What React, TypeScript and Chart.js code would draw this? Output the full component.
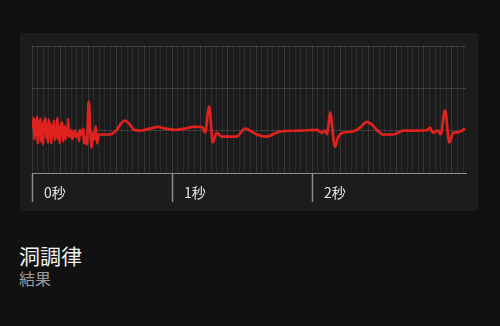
import React, { useEffect, useRef } from "react";
import { Chart, registerables } from "chart.js";

Chart.register(...registerables);

// ECG trace: time in seconds, amplitude in mV
const times = [
  0.005, 0.012, 0.018, 0.024, 0.03, 0.036, 0.042, 0.048, 0.054, 0.06,
  0.066, 0.072, 0.078, 0.084, 0.09, 0.096, 0.102, 0.108, 0.114, 0.12,
  0.126, 0.132, 0.138, 0.144, 0.15, 0.156, 0.162, 0.168, 0.174, 0.18,
  0.186, 0.192, 0.198, 0.204, 0.21, 0.216, 0.222, 0.228, 0.234, 0.24,
  0.246, 0.252, 0.258, 0.264, 0.27, 0.276, 0.282, 0.288, 0.294, 0.3,
  0.306, 0.312, 0.318, 0.324, 0.33, 0.336, 0.342, 0.35, 0.36, 0.366,
  0.372, 0.38, 0.392, 0.405, 0.415, 0.425, 0.435, 0.445, 0.455, 0.465,
  0.475, 0.485, 0.557, 0.6, 0.636, 0.664, 0.693, 0.729, 0.771, 0.843,
  0.9, 0.95, 1.021, 1.093, 1.15, 1.2, 1.221, 1.236, 1.266, 1.291,
  1.319, 1.355, 1.462, 1.521, 1.605, 1.676, 1.771, 1.914, 2.034, 2.069,
  2.093, 2.109, 2.129, 2.164, 2.188, 2.221, 2.293, 2.343, 2.391, 2.429,
  2.462, 2.507, 2.579, 2.65, 2.748, 2.819, 2.843, 2.864, 2.9, 2.919,
  2.95, 2.981, 3.009, 3.043, 3.093,
];
const values = [
  0.05, 0.3, -0.2, 0.25, -0.1, 0.33, -0.3, 0.2, -0.05, 0.28,
  -0.25, 0.15, -0.32, 0.22, 0.0, 0.3, -0.18, 0.12, -0.28, 0.26,
  -0.08, 0.18, -0.3, 0.1, -0.12, 0.24, -0.22, 0.05, -0.15, 0.3,
  -0.2, 0.08, -0.3, 0.15, -0.05, 0.2, -0.25, 0.02, 0.1, -0.2,
  0.05, -0.12, 0.28, -0.15, -0.05, -0.15, 0.02, -0.2, -0.08, -0.12,
  0.0, -0.15, -0.08, -0.12, -0.05, -0.25, 0.02, -0.1, -0.1, 0.05,
  -0.3, -0.15, -0.33, 0.69, 0.1, -0.4, -0.05, -0.2, 0.1, -0.3,
  -0.1, -0.09, -0.09, 0.0, 0.17, 0.24, 0.17, 0.02, 0.0, 0.05,
  0.09, 0.05, 0.02, 0.05, 0.09, 0.09, 0.07, -0.05, 0.57, -0.28,
  -0.05, -0.14, -0.14, 0.05, -0.09, -0.14, -0.02, 0.0, 0.02, -0.05,
  0.0, -0.09, 0.43, -0.38, -0.14, -0.05, -0.02, 0.07, 0.21, 0.14,
  0.02, -0.09, -0.09, 0.0, 0.0, 0.01, 0.07, -0.05, 0.0, -0.09,
  0.48, -0.28, -0.05, -0.04, 0.05,
];

const secondLabels = ["0秒", "1秒", "2秒"];
const xMax = 3.1;
const gridStep = 0.04;
const title = "洞調律";
const subtitle = "結果";

const FONT = "'Noto Sans CJK JP', 'Noto Sans', sans-serif";

function labelIndex(v: number) {
  const r = Math.round(v);
  if (Math.abs(v - r) > 1e-6) return -1;
  return r >= 0 && r < secondLabels.length ? r : -1;
}

export default function App() {
  const ref = useRef<HTMLCanvasElement>(null);

  useEffect(() => {
    const data = times.map((t, i) => ({ x: t, y: values[i] }));
    const chart = new Chart(ref.current!, {
      type: "line",
      data: {
        datasets: [
          {
            data,
            borderColor: "#e0221f",
            borderWidth: 2.7,
            pointRadius: 0,
            fill: false,
            cubicInterpolationMode: "monotone",
          },
        ],
      },
      options: {
        animation: false,
        responsive: false,
        events: [],
        layout: { padding: { left: 12, right: 12, top: 13, bottom: 0 } },
        plugins: { legend: { display: false }, tooltip: { enabled: false } },
        scales: {
          x: {
            type: "linear",
            min: 0,
            max: xMax,
            afterBuildTicks: (s: any) => {
              const n = Math.floor(xMax / gridStep + 1e-6);
              const arr = [];
              for (let k = 0; k <= n; k++) arr.push({ value: Math.round(k * gridStep * 1000) / 1000 });
              s.ticks = arr;
            },
            afterFit: (s: any) => {
              s.height = 38;
            },
            border: { display: true, color: "#8c8c8c", width: 1 },
            grid: {
              color: (ctx: any) => {
                const v = ctx.tick ? ctx.tick.value : 0;
                const k = Math.round(v / gridStep);
                return k % 5 === 0 ? "rgba(255,255,255,0.12)" : "rgba(255,255,255,0.065)";
              },
              lineWidth: 1,
              drawTicks: true,
              tickLength: 29,
              tickWidth: 1.5,
              tickColor: (ctx: any) =>
                ctx.tick && labelIndex(ctx.tick.value) >= 0 ? "#8c8c8c" : "rgba(0,0,0,0)",
            },
            ticks: {
              autoSkip: false,
              maxRotation: 0,
              align: "start",
              labelOffset: 12,
              padding: -18,
              color: "#e4e4e4",
              font: { size: 14, family: FONT },
              callback: (v: any) => {
                const i = labelIndex(Number(v));
                return i >= 0 ? secondLabels[i] : "";
              },
            },
          },
          y: {
            min: -1,
            max: 2,
            ticks: { display: false, stepSize: 1 },
            border: { display: false },
            grid: { color: "rgba(255,255,255,0.14)", drawTicks: false },
          },
        },
      },
    } as any);
    return () => chart.destroy();
  }, []);

  return (
    <div style={{ position: "fixed", inset: 0, background: "#111111", fontFamily: FONT }}>
      <div
        style={{
          position: "absolute",
          left: 20,
          top: 33,
          width: 458,
          height: 178,
          background: "#1c1c1c",
          borderRadius: 3,
        }}
      >
        <canvas ref={ref} width={458} height={178} style={{ display: "block", width: 458, height: 178 }} />
      </div>
      <div
        style={{
          position: "absolute",
          left: 19,
          top: 240,
          fontSize: 21,
          lineHeight: "30px",
          color: "#f2f2f2",
        }}
      >
        {title}
      </div>
      <div
        style={{
          position: "absolute",
          left: 19,
          top: 267,
          fontSize: 16,
          lineHeight: "22px",
          color: "#9a9a9a",
        }}
      >
        {subtitle}
      </div>
    </div>
  );
}
